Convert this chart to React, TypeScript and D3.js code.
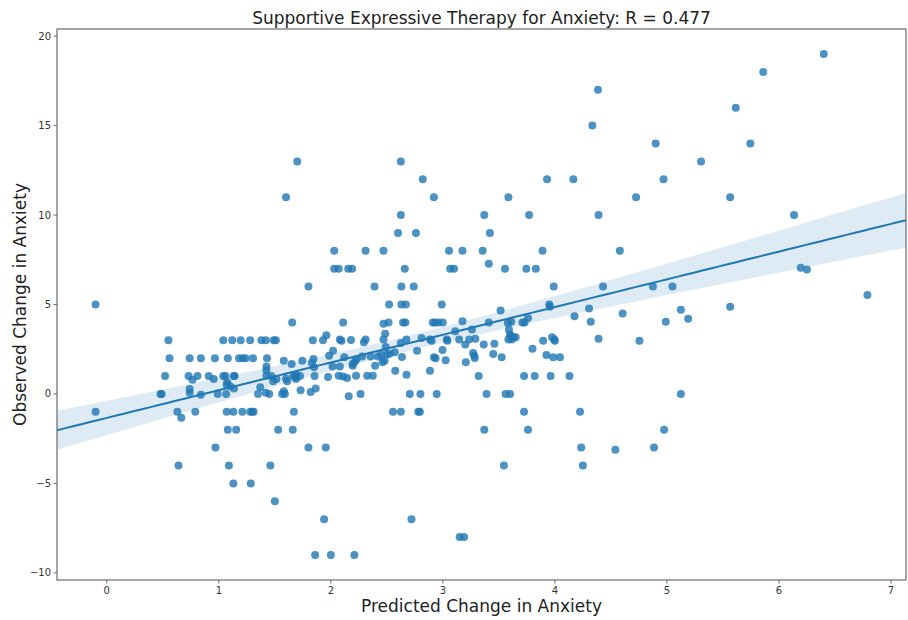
import React from "react";
import * as d3 from "d3";

// Each patient: [predicted change, observed change] in anxiety score
const patients: [number, number][] = [
  [-0.1, 5], [-0.1, -1],
  [0.48, 0], [0.49, 0], [0.52, 1], [0.55, 3], [0.56, 2], [0.63, -1], [0.64, -4], [0.665, -1.33],
  [0.73, 1], [0.74, 2], [0.74, 0.28], [0.74, 0.06], [0.765, 0.8], [0.79, -1], [0.81, 1], [0.84, 2],
  [0.84, -0.05], [0.91, 1], [0.955, 0.84], [0.965, 2], [0.97, -3], [0.99, 0],
  [1.04, 3], [1.04, 1], [1.06, 1], [1.065, 0], [1.07, -1], [1.075, 0.65], [1.07, 0.52], [1.08, -2],
  [1.08, 2], [1.09, -4], [1.1, 0.43], [1.12, 3], [1.13, -1], [1.13, -5], [1.135, 1], [1.14, 1],
  [1.135, 0.31], [1.155, -2], [1.18, 2], [1.195, 3], [1.21, -1], [1.215, 2], [1.24, 2], [1.28, 3],
  [1.28, -1], [1.285, -5], [1.3, -1], [1.31, -1], [1.305, 2], [1.35, 0], [1.37, 0.37], [1.38, 3],
  [1.42, 3], [1.43, 2], [1.425, 1.32], [1.425, 1.54], [1.425, 1.02], [1.42, 0.06], [1.45, 0],
  [1.46, -4], [1.47, 1.0], [1.485, 0.71], [1.49, 3], [1.5, -6], [1.51, 3], [1.515, 0.84], [1.53, -2],
  [1.565, 0], [1.58, 0.15], [1.59, 0], [1.58, 1.86], [1.6, 11], [1.6, 0.87], [1.61, 0.71],
  [1.65, 1.67], [1.655, 4], [1.66, -2], [1.67, -1], [1.665, 1.0], [1.68, 0.95], [1.69, 1.08],
  [1.69, 0.84], [1.7, 13], [1.725, 1], [1.73, 0.2], [1.745, 1.86], [1.8, 6], [1.8, -3], [1.82, 0.11],
  [1.83, 1.73], [1.84, 3], [1.845, 1.96], [1.85, 1.49], [1.855, 1], [1.865, 0.3], [1.86, -9],
  [1.93, 3], [1.94, -7], [1.96, 3.28], [1.955, -3], [1.975, 0.95], [1.985, 2.14],
  [2.0, -9], [2.015, 1.54], [2.02, 2.42], [2.03, 8], [2.03, 7], [2.07, 7], [2.07, 1.02], [2.08, 1.54],
  [2.08, 3.04], [2.095, 2.98], [2.11, 4], [2.11, 0.98], [2.12, 2.05], [2.145, 0.89], [2.155, 7],
  [2.16, -0.13], [2.18, 3.02], [2.19, 7], [2.195, 1.69], [2.195, 1.58], [2.215, 1.82], [2.21, -9],
  [2.225, 1.02], [2.23, 1.96], [2.265, 0], [2.28, 2.1], [2.295, 2.89], [2.31, 3.04], [2.31, 8],
  [2.325, 1.02], [2.355, 2.09], [2.375, 1.02], [2.39, 6], [2.395, 1.58], [2.42, 2.1], [2.45, 2.2],
  [2.46, 1.77], [2.47, 3.93], [2.47, 3.04], [2.47, 8], [2.48, 1.86], [2.485, 3.37], [2.49, 2.63],
  [2.5, 2.2],
  [2.515, 4], [2.52, 5], [2.525, 2.25], [2.555, -1], [2.57, 2.33], [2.575, 1.3], [2.6, 9], [2.625, 13],
  [2.625, 10], [2.625, -1], [2.625, 2.85], [2.63, 6], [2.63, 5], [2.635, 2.07], [2.645, 4], [2.66, 7],
  [2.665, 4], [2.67, 5], [2.675, 1.08], [2.675, 3.04], [2.705, 0], [2.72, -7], [2.74, 6], [2.76, 9],
  [2.77, 2.42], [2.78, -1], [2.795, -1], [2.8, 0], [2.81, 3.13], [2.82, 12], [2.885, 1.3], [2.885, 3.04],
  [2.9, 2.98], [2.91, 4], [2.92, 11], [2.92, 2.05], [2.935, 1.99], [2.93, 4], [2.945, 0], [2.96, 4],
  [2.99, 5], [2.997, 2.46], [3.0, 4],
  [3.025, 1.88], [3.035, 3.04], [3.04, 2.98], [3.055, 8], [3.065, 7], [3.1, 7], [3.11, 3.5],
  [3.145, 3.04], [3.15, -8], [3.19, -8], [3.175, 4.06], [3.175, 8], [3.2, 2.76], [3.205, 1.77],
  [3.235, 3.04], [3.26, 3.6], [3.27, 2.29], [3.28, 2.14], [3.285, 2.01], [3.29, 3.08], [3.32, 1],
  [3.355, 8], [3.365, 2.76], [3.37, 10], [3.37, -2], [3.39, 0], [3.41, 4], [3.41, 7.28], [3.42, 9],
  [3.45, 2.24], [3.46, 2.81], [3.515, 4.66], [3.525, 2.05], [3.545, -4], [3.555, 7], [3.56, 0],
  [3.585, 11], [3.58, 3.97], [3.59, 3.6], [3.6, 3.32], [3.585, 3.04], [3.6, 0], [3.61, 4.03],
  [3.615, 3.04], [3.605, 3.22], [3.63, 3.17], [3.65, 3.17], [3.71, 4], [3.725, 1], [3.725, -1],
  [3.73, 4], [3.745, 7], [3.76, 4.25], [3.76, -2], [3.77, 10], [3.8, 2.52], [3.82, 1], [3.83, 7],
  [3.89, 8], [3.895, 2.98], [3.925, 2.18], [3.93, 12], [3.95, 5], [3.955, 4.87], [3.962, 1],
  [3.975, 3.17], [3.985, 2.05], [3.99, 6], [3.995, 3.04],
  [4.0, 2.98], [4.045, 2.05], [4.13, 1], [4.165, 12], [4.175, 4.34], [4.225, -1], [4.235, -3],
  [4.25, -4], [4.305, 4.77], [4.32, 4.03], [4.335, 15], [4.385, 17], [4.39, 10], [4.39, 3.08],
  [4.43, 6], [4.54, -3.12], [4.58, 8], [4.605, 4.5], [4.725, 11], [4.755, 2.98], [4.875, 6],
  [4.885, -3], [4.9, 14], [4.97, 12], [4.975, -2], [4.99, 4.03], [5.05, 6], [5.125, 4.7], [5.125, 0],
  [5.19, 4.2], [5.305, 13], [5.565, 11], [5.565, 4.87], [5.615, 16], [5.745, 14], [5.86, 18],
  [6.135, 10], [6.195, 7.05], [6.25, 6.95], [6.4, 19], [6.79, 5.53],
];

const xTicks = [0, 1, 2, 3, 4, 5, 6, 7];
const yTicks = [-10, -5, 0, 5, 10, 15, 20];
const titleText = "Supportive Expressive Therapy for Anxiety: R = 0.477";
const xLabel = "Predicted Change in Anxiety";
const yLabel = "Observed Change in Anxiety";

const W = 908;
const H = 620;
const M = { left: 57, right: 906, top: 29, bottom: 580 };
const BLUE = "#1f77b4";
const FONT = "DejaVu Sans, sans-serif";

// Pad the data extent by 5% on each side, like matplotlib's autoscaling
function padded(ext: [number, number]): [number, number] {
  const pad = (ext[1] - ext[0]) * 0.05;
  return [ext[0] - pad, ext[1] + pad];
}

function fmt(v: number) {
  return v < 0 ? "\u2212" + Math.abs(v) : String(v);
}

export default function App() {
  const xs = patients.map((p) => p[0]);
  const ys = patients.map((p) => p[1]);
  const xDomain = padded(d3.extent(xs) as [number, number]);
  const yDomain = padded(d3.extent(ys) as [number, number]);
  const x = d3.scaleLinear().domain(xDomain).range([M.left, M.right]);
  const y = d3.scaleLinear().domain(yDomain).range([M.bottom, M.top]);

  // Ordinary least squares fit with a 95% confidence band for the mean
  const n = patients.length;
  const mx = d3.mean(xs)!;
  const my = d3.mean(ys)!;
  const sxx = d3.sum(xs, (v) => (v - mx) ** 2);
  const sxy = d3.sum(patients, (p) => (p[0] - mx) * (p[1] - my));
  const slope = sxy / sxx;
  const intercept = my - slope * mx;
  const sse = d3.sum(patients, (p) => (p[1] - (intercept + slope * p[0])) ** 2);
  const s = Math.sqrt(sse / (n - 2));
  const tCrit = 1.968;
  const grid = d3.range(101).map((i) => xDomain[0] + ((xDomain[1] - xDomain[0]) * i) / 100);
  const fit = grid.map((gx) => {
    const yh = intercept + slope * gx;
    const half = tCrit * s * Math.sqrt(1 / n + (gx - mx) ** 2 / sxx);
    return { gx, yh, lo: yh - half, hi: yh + half };
  });

  const band = d3
    .area<(typeof fit)[number]>()
    .x((d) => x(d.gx))
    .y0((d) => y(d.lo))
    .y1((d) => y(d.hi))(fit)!;
  const line = d3
    .line<(typeof fit)[number]>()
    .x((d) => x(d.gx))
    .y((d) => y(d.yh))(fit)!;

  const midX = (M.left + M.right) / 2;
  const midY = (M.top + M.bottom) / 2;

  return (
    <svg
      width={W}
      height={H}
      style={{ position: "absolute", left: 0, top: 0, background: "#fff" }}
      fontFamily={FONT}
    >
      <defs>
        <clipPath id="plot-area">
          <rect x={M.left} y={M.top} width={M.right - M.left} height={M.bottom - M.top} />
        </clipPath>
      </defs>
      <g clipPath="url(#plot-area)">
        {patients.map((p, i) => (
          <circle key={i} cx={x(p[0])} cy={y(p[1])} r={4} fill={BLUE} fillOpacity={0.8} />
        ))}
        <path d={band} fill={BLUE} fillOpacity={0.15} stroke="none" />
        <path d={line} fill="none" stroke={BLUE} strokeWidth={2} />
      </g>
      <rect
        x={M.left}
        y={M.top}
        width={M.right - M.left}
        height={M.bottom - M.top}
        fill="none"
        stroke="#6b6b6b"
        strokeWidth={1.2}
      />
      {xTicks.map((t) => (
        <g key={"x" + t} transform={`translate(${x(t)},${M.bottom})`}>
          <line y1={0} y2={3.5} stroke="#6b6b6b" />
          <text y={14} textAnchor="middle" fontSize={10} fill="#333">
            {fmt(t)}
          </text>
        </g>
      ))}
      {yTicks.map((t) => (
        <g key={"y" + t} transform={`translate(${M.left},${y(t)})`}>
          <line x1={0} x2={-3.5} stroke="#6b6b6b" />
          <text x={-6} dy="0.35em" textAnchor="end" fontSize={10} fill="#333">
            {fmt(t)}
          </text>
        </g>
      ))}
      <text x={midX} y={24} textAnchor="middle" fontSize={17} fill="#222">
        {titleText}
      </text>
      <text x={midX} y={612} textAnchor="middle" fontSize={17} fill="#222">
        {xLabel}
      </text>
      <text
        transform={`translate(26,${midY}) rotate(-90)`}
        textAnchor="middle"
        fontSize={17}
        fill="#222"
      >
        {yLabel}
      </text>
    </svg>
  );
}
